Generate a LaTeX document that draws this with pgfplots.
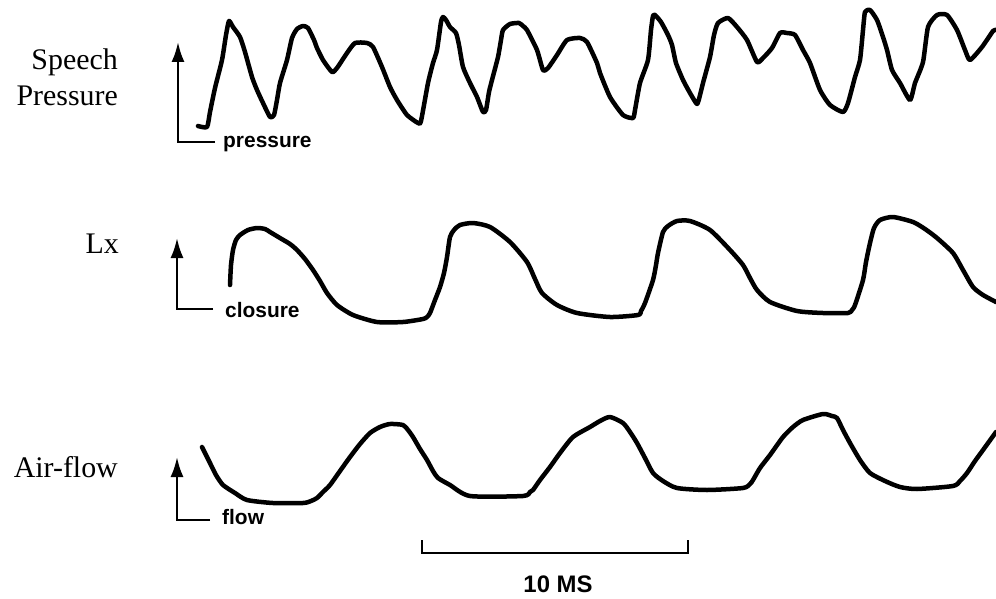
\documentclass[border=0pt]{standalone}
\usepackage{pgfplots}
\pgfplotsset{compat=1.18}
\usetikzlibrary{arrows.meta}
\usepackage{fontspec}
\setmainfont{Liberation Serif}
\newfontfamily\hv{Liberation Sans}
\begin{document}
\begin{tikzpicture}
\begin{axis}[scale only axis, width=996bp, height=599bp,
  xmin=0, xmax=996, ymin=0, ymax=599, y dir=reverse, hide axis, clip=true]
% Speech pressure
\addplot[black, line width=4.5bp, line join=round, line cap=round, smooth, tension=0.35] coordinates {
(198,126)(207,127)(210,112)(215,88)(222,60)(226,35)(229,21)(233,27)(240,37)(245,52)(252,77)(257,90)(263,103)(270,117)(274,115)(277,100)(280,83)(287,60)(292,38)(297,29)(303,26)(308,28)(314,40)(317,48)(323,60)(332,72)(337,68)(347,53)(355,43)(367,43)(373,47)(382,67)(390,87)(397,100)(407,115)(418,123)(421,121)(428,83)(433,63)(437,50)(441,22)(443,17)(446,20)(450,27)(456,33)(459,45)(463,67)(470,83)(477,97)(483,112)(486,110)(489,92)(492,80)(498,57)(501,40)(503,30)(510,24)(519,23)(523,26)(527,30)(537,50)(543,70)(548,68)(557,55)(567,40)(580,38)(587,42)(597,63)(600,73)(610,97)(623,115)(633,118)(635,110)(640,83)(648,60)(651,30)(653,16)(655,15)(661,22)(668,35)(672,45)(676,63)(683,80)(690,93)(697,104)(700,95)(703,83)(710,57)(714,35)(718,23)(728,18)(737,27)(747,40)(757,62)(763,58)(772,48)(780,33)(787,33)(795,35)(803,50)(810,63)(820,90)(830,105)(843,112)(848,103)(855,77)(860,60)(863,30)(865,12)(870,10)(877,20)(883,37)(887,50)(892,70)(900,83)(910,100)(915,83)(923,62)(928,27)(937,15)(947,15)(957,30)(965,50)(970,60)(982,47)(993,31)(996,30)};
% Lx
\addplot[black, line width=4.5bp, line join=round, line cap=round, smooth, tension=0.4] coordinates {
(230,285)(231,265)(233,250)(236,240)(240,235)(248,230)(257,228)(265,229)(270,232)(280,238)(290,244)(297,250)(305,259)(313,270)(320,281)(327,293)(337,305)(353,315)(377,322)(403,322)(423,319)(427,317)(430,313)(435,300)(440,287)(444,273)(447,257)(450,237)(454,230)(460,225)(473,223)(490,227)(510,242)(527,262)(535,279)(542,293)(557,305)(577,313)(610,317)(638,315)(641,311)(645,303)(653,280)(656,265)(658,253)(663,232)(668,226)(677,221)(690,221)(710,230)(730,250)(743,265)(750,278)(757,290)(770,302)(797,311)(823,313)(848,313)(852,310)(855,305)(863,280)(866,262)(870,243)(874,228)(880,220)(893,217)(913,222)(925,229)(937,238)(953,253)(963,270)(973,287)(983,295)(996,302)};
% Air-flow
\addplot[black, line width=4.5bp, line join=round, line cap=round, smooth, tension=0.4] coordinates {
(202,447)(210,463)(216,475)(223,485)(235,493)(247,500)(273,503)(303,503)(311,501)(317,498)(323,492)(330,485)(340,471)(350,457)(360,444)(370,433)(380,427)(390,424)(403,425)(408,430)(413,437)(420,449)(427,460)(433,471)(438,478)(450,485)(470,496)(523,496)(530,492)(533,490)(540,480)(550,467)(560,453)(573,437)(590,427)(600,421)(610,417)(623,423)(630,432)(637,443)(645,458)(653,473)(663,481)(677,488)(707,490)(743,488)(750,484)(753,480)(760,468)(770,455)(783,437)(793,427)(803,420)(823,414)(832,416)(837,418)(843,430)(850,443)(860,460)(870,473)(885,481)(900,487)(917,489)(953,486)(960,481)(967,473)(975,461)(983,450)(996,432)};
% arrows with brackets
\addplot[black, line width=2.5bp, -{Latex[length=20bp,width=13bp]}] coordinates {(215,142)(178,142)(178,42)};
\addplot[black, line width=2.5bp, -{Latex[length=20bp,width=13bp]}] coordinates {(213,309)(177,309)(177,238)};
\addplot[black, line width=2.5bp, -{Latex[length=20bp,width=13bp]}] coordinates {(210,520)(177,520)(177,457)};
% scale bar
\addplot[black, line width=2.2bp] coordinates {(422,540)(422,553)(688,553)(688,540)};
% labels
\node[anchor=base east, inner sep=0, font=\fontsize{30}{36}\selectfont] at (axis cs:118,70) {Speech};
\node[anchor=base east, inner sep=0, font=\fontsize{30}{36}\selectfont] at (axis cs:118,105) {Pressure};
\node[anchor=base east, inner sep=0, font=\fontsize{30}{36}\selectfont] at (axis cs:119,253) {Lx};
\node[anchor=base east, inner sep=0, font=\fontsize{30}{36}\selectfont] at (axis cs:118,477) {Air-flow};
\node[anchor=base west, inner sep=0, font=\hv\bfseries\fontsize{21}{25}\selectfont] at (axis cs:223,147) {pressure};
\node[anchor=base west, inner sep=0, font=\hv\bfseries\fontsize{21}{25}\selectfont] at (axis cs:225,317) {closure};
\node[anchor=base west, inner sep=0, font=\hv\bfseries\fontsize{21}{25}\selectfont] at (axis cs:222,524) {flow};
\node[anchor=base, inner sep=0, font=\hv\bfseries\fontsize{24}{28}\selectfont] at (axis cs:558,592) {10 MS};
\end{axis}
\pgfresetboundingbox
\path (current axis.south west) rectangle (current axis.north east);
\end{tikzpicture}
\end{document}
